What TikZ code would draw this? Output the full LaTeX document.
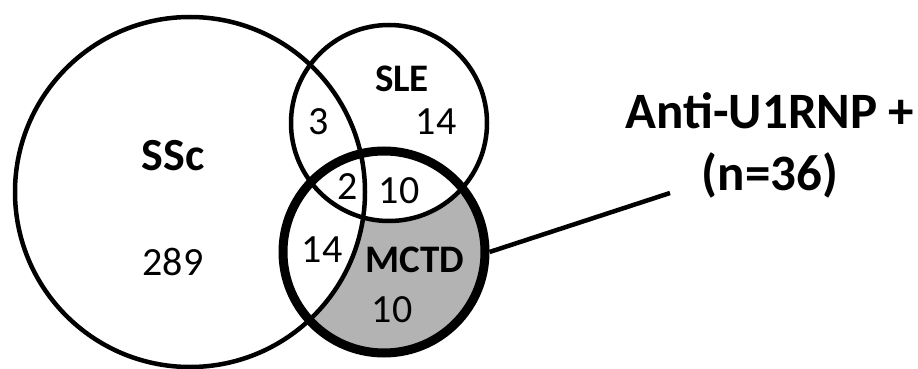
\documentclass[tikz,border=0pt]{standalone}
\usepackage{fontspec}
\setmainfont{Carlito}
\definecolor{fillgray}{RGB}{179,179,179}
\begin{document}
\begin{tikzpicture}[x=1pt,y=-1pt,
  setcircle/.style={draw=black, circle, inner sep=0pt, line width=4.5pt},
  boldcircle/.style={draw=black, circle, inner sep=0pt, line width=9pt},
  biglabel/.style={inner sep=0pt, anchor=base, font=\fontsize{46}{55}\selectfont\bfseries},
  setlabel/.style={inner sep=0pt, anchor=base, font=\fontsize{39}{47}\selectfont\bfseries},
  count/.style={inner sep=0pt, anchor=base, font=\fontsize{40}{48}\selectfont},
  leader/.style={line width=4.5pt},
  sidelabel/.style={inner sep=0pt, anchor=base, align=center, font=\fontsize{51}{62}\selectfont\bfseries}]
\useasboundingbox (0,0) rectangle (918,369);
% gray region: MCTD only
\fill[fillgray] (384,252) circle[radius=101];
\begin{scope}
  \clip (384,252) circle[radius=101];
  \fill[white] (190,192) circle[radius=175];
  \fill[white] (389,123) circle[radius=98];
\end{scope}
% outlines
\node[setcircle, minimum size=350pt] (ssc) at (190,192) {};
\node[setcircle, minimum size=196pt] (sle) at (389,123) {};
\node[boldcircle, minimum size=202pt] (mctd) at (384,252) {};
% labels
\node[biglabel] (sscl) at (173,170) {SSc};
\node[count] (n289) at (173,275) {289};
\node[setlabel] (slel) at (402,92) {SLE};
\node[count] (n3) at (319,134) {3};
\node[count] (n14a) at (436,134) {14};
\node[count] (n2) at (348,199) {2};
\node[count] (n10a) at (399,203) {10};
\node[count] (n14b) at (322,262) {14};
\node[setlabel] (mctdl) at (415,272) {MCTD};
\node[count] (n10b) at (392,322) {10};
% side label
\coordinate (leadend) at (670,193);
\draw[leader] (mctd.east) -- (leadend);
\node[sidelabel] (anti) at (770,190) {Anti-U1RNP +\\(n=36)};
\end{tikzpicture}
\end{document}
